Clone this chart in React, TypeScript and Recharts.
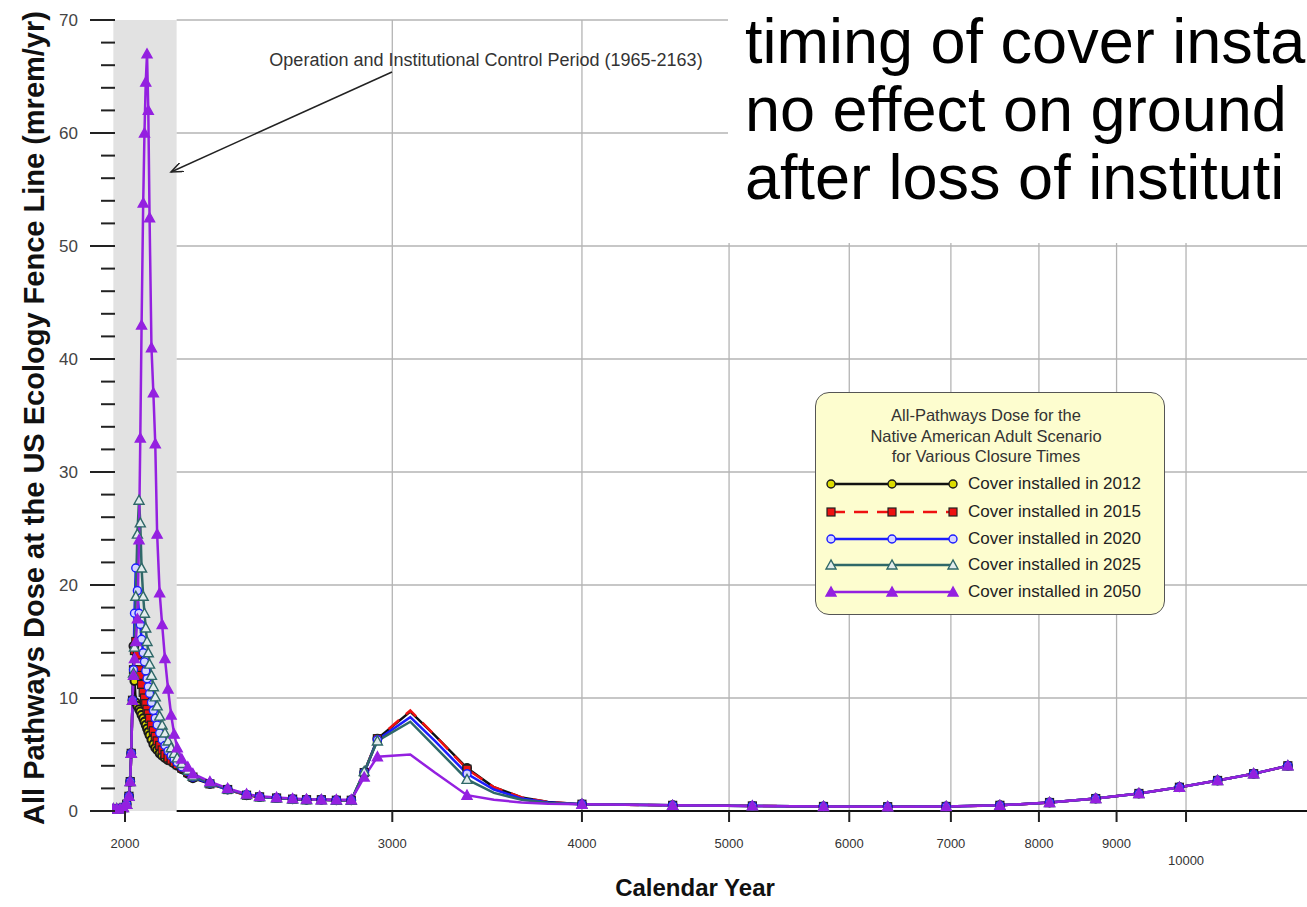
import React from "react";
import {
  LineChart,
  Line,
  XAxis,
  YAxis,
  ReferenceArea,
  ReferenceLine,
} from "recharts";

// calendar years of the model output
const years = [
  1965, 1975, 1985, 1995, 2005, 2012, 2016, 2019, 2023,
  2026, 2029, 2033, 2038, 2043, 2047, 2051, 2056, 2060, 2064,
  2068, 2072, 2076, 2082, 2088, 2094, 2100, 2108, 2116, 2125,
  2135, 2145, 2155, 2165, 2180, 2200, 2217, 2275, 2337, 2405,
  2453, 2517, 2579, 2634, 2694, 2756, 2819, 2875, 2933, 3083,
  3200, 3360, 3500, 3650, 3800,
  4000, 4590, 5180, 5770, 6360, 6950, 7540, 8130, 8720, 9310, 9900, 10490, 11080, 11670,
];

// dose before any cover goes in (same for all cases)
const earlyDose = [0.2, 0.2, 0.2, 0.3, 0.6, 1.3, 2.6, 5.1, 9.8];

// 2026 .. 3800
const mid2012 = [
  14.6, 11.5, 9.6, 9.3, 9.0, 8.8, 8.5, 8.2, 7.9, 7.6,
  7.3, 7.0, 6.7, 6.3, 5.9, 5.6, 5.4, 5.1, 4.9, 4.7,
  4.5, 4.4, 4.2, 4.0, 3.7, 3.3, 2.9, 2.4, 1.9, 1.4,
  1.25, 1.15, 1.05, 1.0, 1.0, 0.95, 0.95, 3.4, 6.4, 8.8,
  6.7, 3.8, 2.1, 1.2, 0.8,
];
const mid2015 = [
  12.5, 14.2, 15.0, 13.8, 12.5, 12.0, 11.2, 10.5, 10.0, 9.5,
  9.0, 8.6, 8.2, 7.6, 7.1, 6.6, 6.2, 5.8, 5.4, 5.0,
  4.7, 4.5, 4.3, 4.1, 3.8, 3.4, 3.0, 2.4, 1.9, 1.4,
  1.25, 1.15, 1.05, 1.0, 1.0, 0.95, 0.95, 3.4, 6.4, 8.9,
  6.7, 3.7, 2.1, 1.2, 0.8,
];
const mid2020 = [
  12.5, 17.5, 21.5, 19.5, 17.5, 16.5, 15.2, 14.0, 13.2, 12.4,
  11.7, 11.0, 10.4, 9.6, 8.9, 8.2, 7.6, 6.9, 6.3, 5.8,
  5.3, 4.9, 4.6, 4.3, 3.9, 3.5, 3.0, 2.45, 1.9, 1.45,
  1.25, 1.15, 1.05, 1.0, 1.0, 0.95, 0.95, 3.4, 6.3, 8.3,
  6.2, 3.3, 1.9, 1.1, 0.75,
];
const mid2025 = [
  12.2, 14.5, 19.0, 24.5, 27.5, 25.5, 21.5, 19.0, 17.5, 16.2,
  15.0, 14.0, 13.0, 12.0, 11.0, 10.1, 9.3, 8.4, 7.6, 6.9,
  6.2, 5.6, 5.1, 4.7, 4.2, 3.6, 3.1, 2.5, 1.95, 1.45,
  1.25, 1.15, 1.05, 1.0, 1.0, 0.95, 0.95, 3.5, 6.2, 7.9,
  5.7, 2.8, 1.6, 1.0, 0.7,
];
const mid2050 = [
  12.0, 13.5, 15.0, 17.0, 24.0, 33.0, 43.0, 53.8, 60.0, 64.5,
  67.0, 62.0, 52.5, 41.0, 37.0, 32.5, 24.5, 19.3, 16.5, 13.5,
  10.8, 8.5, 6.8, 5.6, 4.6, 3.9, 3.3, 2.6, 2.0, 1.5,
  1.3, 1.2, 1.1, 1.05, 1.0, 1.0, 1.0, 3.0, 4.8, 5.0,
  3.4, 1.4, 1.0, 0.75, 0.65,
];

// long-term tail, 4000 .. 11670
const lateDose = [0.6, 0.5, 0.45, 0.4, 0.38, 0.4, 0.5, 0.75, 1.1, 1.55, 2.1, 2.7, 3.3, 4.0];

// years drawn as plain line (no symbol)
const noMarkerYears = [3083, 3200, 3500, 3650, 3800];

const xTicks = [2000, 3000, 4000, 5000, 6000, 7000, 8000, 9000, 10000];
const yTicks = [0, 2, 4, 6, 8, 10, 12, 14, 16, 18, 20, 22, 24, 26, 28, 30, 32, 34, 36, 38, 40, 42, 44, 46, 48, 50, 52, 54, 56, 58, 60, 62, 64, 66, 68, 70];
const yGrid = [10, 20, 30, 40, 50, 60, 70];
const xGrid = [3000, 4000, 5000, 6000, 7000, 8000, 9000, 10000];

// slide text pasted over the top right of the plot (cut off by the slide edge)
const slideLines = ["timing of cover insta", "no effect on ground", "after loss of instituti"];

const dose2012 = [...earlyDose, ...mid2012, ...lateDose];
const dose2015 = [...earlyDose, ...mid2015, ...lateDose];
const dose2020 = [...earlyDose, ...mid2020, ...lateDose];
const dose2025 = [...earlyDose, ...mid2025, ...lateDose];
const dose2050 = [...earlyDose, ...mid2050, ...lateDose];

const data = years.map((year, i) => ({
  year,
  c2012: dose2012[i],
  c2015: dose2015[i],
  c2020: dose2020[i],
  c2025: dose2025[i],
  c2050: dose2050[i],
}));

const series = [
  { key: "c2012", name: "Cover installed in 2012", stroke: "#111111", dash: undefined, shape: "circle", fill: "#dcdc00", mark: "#1a1a1a" },
  { key: "c2015", name: "Cover installed in 2015", stroke: "#ee1111", dash: "14 9", shape: "square", fill: "#ee1111", mark: "#222222" },
  { key: "c2020", name: "Cover installed in 2020", stroke: "#1c1cff", dash: undefined, shape: "circle", fill: "#d4d4ff", mark: "#1c1cff" },
  { key: "c2025", name: "Cover installed in 2025", stroke: "#2f6868", dash: undefined, shape: "triangle", fill: "#e2ecec", mark: "#2f6868" },
  { key: "c2050", name: "Cover installed in 2050", stroke: "#9420e0", dash: undefined, shape: "triangle", fill: "#9420e0", mark: "#9420e0" },
];

const FONT = '"Liberation Sans", Arial, sans-serif';

function marker(shape: string, cx: number, cy: number, fill: string, stroke: string, key?: string, sw = 1.4) {
  if (shape === "square") {
    return <rect key={key} x={cx - 4} y={cy - 4} width={8} height={8} fill={fill} stroke={stroke} strokeWidth={1.2} />;
  }
  if (shape === "triangle") {
    return (
      <polygon
        key={key}
        points={`${cx},${cy - 5} ${cx - 5},${cy + 4} ${cx + 5},${cy + 4}`}
        fill={fill}
        stroke={stroke}
        strokeWidth={1.4}
      />
    );
  }
  return <circle key={key} cx={cx} cy={cy} r={4} fill={fill} stroke={stroke} strokeWidth={sw} />;
}

const makeDot = (s: any) => (props: any) => {
  const { cx, cy, payload, index } = props;
  const key = `${s.key}-${index}`;
  if (cx == null || cy == null || noMarkerYears.includes(payload.year)) return <g key={key} />;
  // the 2012 symbols read almost black in the dense part of the plot
  return marker(s.shape, cx, cy, s.fill, s.mark, key, s.key === "c2012" ? 2 : 1.4);
};

const XTick = (props: any) => {
  const { x, y, payload } = props;
  const low = payload.value === 10000;
  return (
    <g>
      <line x1={x} x2={x} y1={y} y2={y + 11} stroke="#222" strokeWidth={2} />
      <text x={x} y={y + (low ? 54 : 37)} textAnchor="middle" fontSize={13} fill="#333" fontFamily={FONT}>
        {payload.value}
      </text>
    </g>
  );
};

const YTick = (props: any) => {
  const { x, y, payload } = props;
  const major = payload.value % 10 === 0;
  return (
    <g>
      <line x1={major ? x - 22 : x - 11} x2={x + 3} y1={y} y2={y} stroke="#222" strokeWidth={2} />
      {major && (
        <text x={x - 34} y={y + 6} textAnchor="end" fontSize={17} fill="#444" fontFamily={FONT}>
          {payload.value}
        </text>
      )}
    </g>
  );
};

function DoseLegend() {
  const rows = [91, 119, 146, 172, 199];
  return (
    <div
      style={{
        position: "absolute",
        left: 815,
        top: 392,
        width: 350,
        height: 223,
        boxSizing: "border-box",
        background: "#fdfdcf",
        border: "1.5px solid #555",
        borderRadius: 14,
        fontFamily: FONT,
        color: "#222",
      }}
    >
      <div style={{ position: "absolute", left: 0, width: 340, top: 12, textAlign: "center", fontSize: 16.5, lineHeight: "20.5px", color: "#333" }}>
        All-Pathways Dose for the
        <br />
        Native American Adult Scenario
        <br />
        for Various Closure Times
      </div>
      {series.map((s, i) => (
        <div key={s.key}>
          <svg style={{ position: "absolute", left: 8, top: rows[i] - 10 }} width={140} height={20}>
            <line x1={7} x2={129} y1={10} y2={10} stroke={s.stroke} strokeWidth={2.5} strokeDasharray={s.dash} />
            {[7, 68, 129].map((mx) => marker(s.shape, mx, 10, s.fill, s.mark, `${s.key}-l${mx}`))}
          </svg>
          <div style={{ position: "absolute", left: 152, top: rows[i] - 11, fontSize: 17, lineHeight: "22px", whiteSpace: "nowrap" }}>
            {s.name}
          </div>
        </div>
      ))}
    </div>
  );
}

export default function App() {
  return (
    <div style={{ position: "absolute", left: 0, top: 0, width: 1307, height: 907, background: "#fff", overflow: "hidden" }}>
      <LineChart width={1307} height={907} data={data} margin={{ top: 20, right: 0, bottom: 0, left: 0 }}>
        <XAxis
          dataKey="year"
          type="number"
          scale="log"
          domain={[1961, 12014]}
          allowDataOverflow
          ticks={xTicks}
          interval={0}
          tick={<XTick />}
          tickLine={false}
          axisLine={false}
          tickSize={0}
          tickMargin={0}
          height={96}
        />
        <YAxis
          type="number"
          domain={[0, 70]}
          ticks={yTicks}
          interval={0}
          tick={<YTick />}
          tickLine={false}
          axisLine={false}
          tickSize={0}
          tickMargin={0}
          width={112}
        />
        {yGrid.map((v) => (
          <ReferenceLine
            key={`gy${v}`}
            segment={[{ x: 2163, y: v }, { x: 12014, y: v }]}
            stroke="#b4b4b4"
            strokeWidth={1.3}
            ifOverflow="visible"
          />
        ))}
        {xGrid.map((v) => (
          <ReferenceLine key={`gx${v}`} x={v} stroke="#b4b4b4" strokeWidth={1.3} ifOverflow="visible" />
        ))}
        <ReferenceArea x1={1965} x2={2163} y1={0} y2={70} fill="#e2e2e2" fillOpacity={1} stroke="none" ifOverflow="visible" />
        <ReferenceLine
          segment={[{ x: 2163, y: 0 }, { x: 12014, y: 0 }]}
          stroke="#111"
          strokeWidth={2}
          ifOverflow="visible"
        />
        {series.map((s) => (
          <Line
            key={s.key}
            dataKey={s.key}
            name={s.name}
            type="linear"
            stroke={s.stroke}
            strokeWidth={2.5}
            strokeDasharray={s.dash}
            dot={makeDot(s)}
            activeDot={false}
            isAnimationActive={false}
          />
        ))}
      </LineChart>

      <svg
        width={1307}
        height={907}
        style={{ position: "absolute", left: 0, top: 0, pointerEvents: "none" }}
        fontFamily={FONT}
      >
        <defs>
          <marker id="arrowHead" markerWidth="14" markerHeight="10" refX="12" refY="5" orient="auto" markerUnits="userSpaceOnUse">
            <path d="M0,0 L12,5 L0,10" fill="none" stroke="#222" strokeWidth={1.5} />
          </marker>
        </defs>
        <text x={486} y={66} textAnchor="middle" fontSize={18} fill="#333">
          Operation and Institutional Control Period (1965-2163)
        </text>
        <line x1={392} y1={72} x2={171} y2={172} stroke="#222" strokeWidth={1.5} markerEnd="url(#arrowHead)" />

        <rect x={728} y={0} width={580} height={243} fill="#fff" />
        {slideLines.map((t, i) => (
          <text key={t} x={745} y={63 + i * 68} fontSize={63} fill="#000">
            {t}
          </text>
        ))}

        <text
          transform="translate(44, 418) rotate(-90)"
          textAnchor="middle"
          fontSize={29}
          fontWeight="bold"
          fill="#111"
        >
          All Pathways Dose at the US Ecology Fence Line (mrem/yr)
        </text>
        <text x={695} y={896} textAnchor="middle" fontSize={24} fontWeight="bold" fill="#111">
          Calendar Year
        </text>
      </svg>

      <DoseLegend />
    </div>
  );
}
